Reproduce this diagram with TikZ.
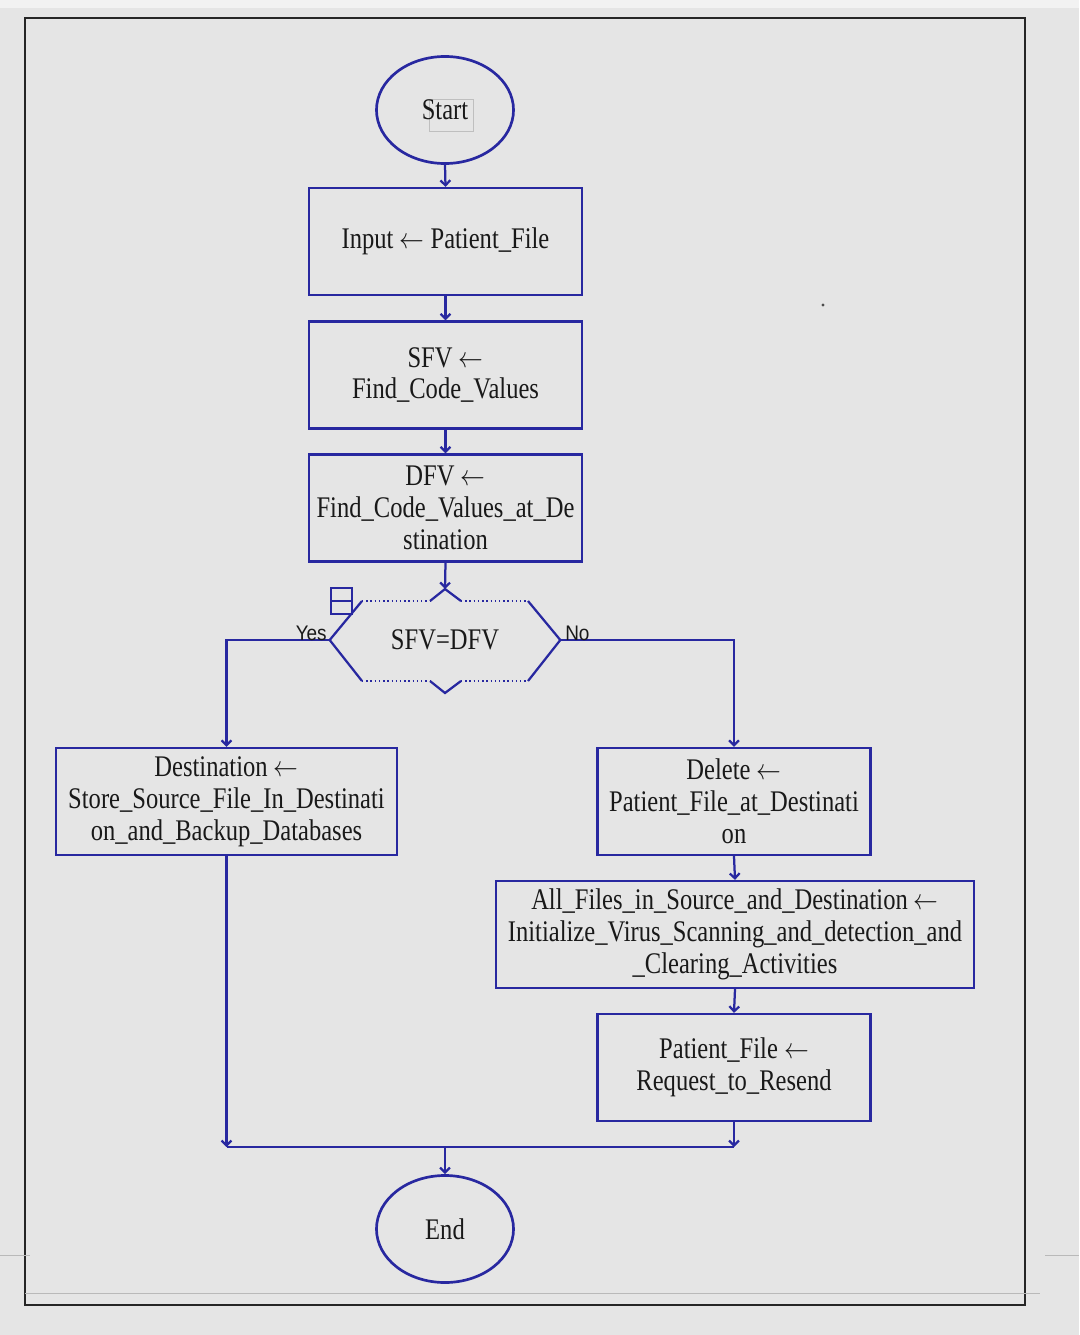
\documentclass[tikz,border=0pt]{standalone}
\usepackage{fontspec}
\setmainfont{Liberation Serif}[FakeStretch=0.82]
\newfontfamily\labelfont{Liberation Sans}[FakeStretch=0.9]
\usetikzlibrary{arrows.meta,shapes.geometric}
\definecolor{flowblue}{RGB}{40,40,160}
\definecolor{screengray}{RGB}{229,229,229}
\definecolor{edgegray}{RGB}{242,242,242}
\newcommand\getsarrow{\scalebox{0.85}[1]{$\leftarrow$}}
\tikzset{
  boxtext/.style={text=black!90,font=\fontsize{21.3}{22.7}\selectfont},
  procbox/.style={boxtext,draw=flowblue,line width=1.6pt,minimum width=6.825cm,minimum height=2.675cm,align=center,inner sep=2pt},
  termnode/.style={boxtext,ellipse,draw=flowblue,line width=1.9pt,minimum width=3.425cm,minimum height=2.675cm},
  link/.style={draw=flowblue,line width=1.6pt},
  flow/.style={link,-{Straight Barb[length=3.5pt,width=7pt]}},
  branchlabel/.style={text=black!90,inner sep=0pt,font=\labelfont\fontsize{15}{16}\selectfont}
}
\begin{document}
\begin{tikzpicture}[x=0.025cm,y=-0.025cm]
         \useasboundingbox (0,0) rectangle (1079,1335);
         \fill[screengray] (0,0) rectangle (1079,1335);
         \fill[edgegray] (0,0) rectangle (1079,8);
         \draw[black!85,line width=1pt] (25,18) rectangle (1025,1305);
         \draw[gray!55,line width=0.6pt] (25,1293) -- (1040,1293);
         \draw[gray!55,line width=0.6pt] (0,1255) -- (30,1255) (1045,1255) -- (1079,1255);
         \fill[black!70] (823,305) circle (0.04cm);
         \draw[gray!50,line width=0.6pt] (429,99) rectangle (473,131);
         \node[termnode] (start) at (445,110) {Start};
         \node[procbox] (input) at (445.5,241.5) {Input \getsarrow\ Patient\_File};
         \node[procbox] (sfv) at (445.5,375) {SFV \getsarrow\\Find\_Code\_Values};
         \node[procbox] (dfv) at (445.5,508) {DFV \getsarrow\\Find\_Code\_Values\_at\_De\\stination};
         \node[boxtext,minimum width=5.75cm,minimum height=2cm] (dec) at (445,640) {SFV=DFV};
         \coordinate (dectop) at (445,589);
         \coordinate (decbot) at (445,693);
         \draw[link] (362,601) -- (dec.west) -- (362,681);
         \draw[link] (528,601) -- (dec.east) -- (528,681);
         \draw[flowblue,line width=1pt,dotted] (362,601) -- (430,601) (461,601) -- (528,601);
         \draw[flowblue,line width=1pt,dotted] (362,681) -- (430,681) (461,681) -- (528,681);
         \draw[link] (430,601) -- (dectop) -- (461,601);
         \draw[link] (430,681) -- (decbot) -- (461,681);
         \draw[flowblue,line width=1.2pt] (331,588) rectangle (352,614) (331,601) -- (352,601);
         \node[procbox,minimum width=8.525cm] (dest) at (226.5,801.5) {Destination \getsarrow\\Store\_Source\_File\_In\_Destinati\\on\_and\_Backup\_Databases};
         \node[procbox] (del) at (734,801.5) {Delete \getsarrow\\Patient\_File\_at\_Destinati\\on};
         \node[procbox,minimum width=11.95cm] (allf) at (735,934.5) {All\_Files\_in\_Source\_and\_Destination \getsarrow\\Initialize\_Virus\_Scanning\_and\_detection\_and\\\_Clearing\_Activities};
         \node[procbox] (resend) at (734,1067.5) {Patient\_File \getsarrow\\Request\_to\_Resend};
         \node[termnode] (end) at (445,1229) {End};
         \coordinate (joinL) at (226.5,1147);
         \coordinate (joinM) at (445,1147);
         \coordinate (joinR) at (734,1147);
         \draw[flow] (start.south) -- (input.north);
         \draw[flow] (input.south) -- (sfv.north);
         \draw[flow] (sfv.south) -- (dfv.north);
         \draw[flow] (dfv.south) -- (dectop);
         \draw[flow] (dec.west) -| (dest.north);
         \draw[flow] (dec.east) -| (del.north);
         \node[branchlabel,anchor=base east] (yes) at (327,640) {Yes};
         \node[branchlabel,anchor=base west] (no) at (565,640) {No};
         \draw[flow] (del.south) -- (allf.north);
         \draw[flow] (allf.south) -- (resend.north);
         \draw[flow] (dest.south) -- (joinL);
         \draw[flow] (resend.south) -- (joinR);
         \draw[link] (joinL) -- (joinR);
         \draw[flow] (joinM) -- (end.north);
\end{tikzpicture}
\end{document}
